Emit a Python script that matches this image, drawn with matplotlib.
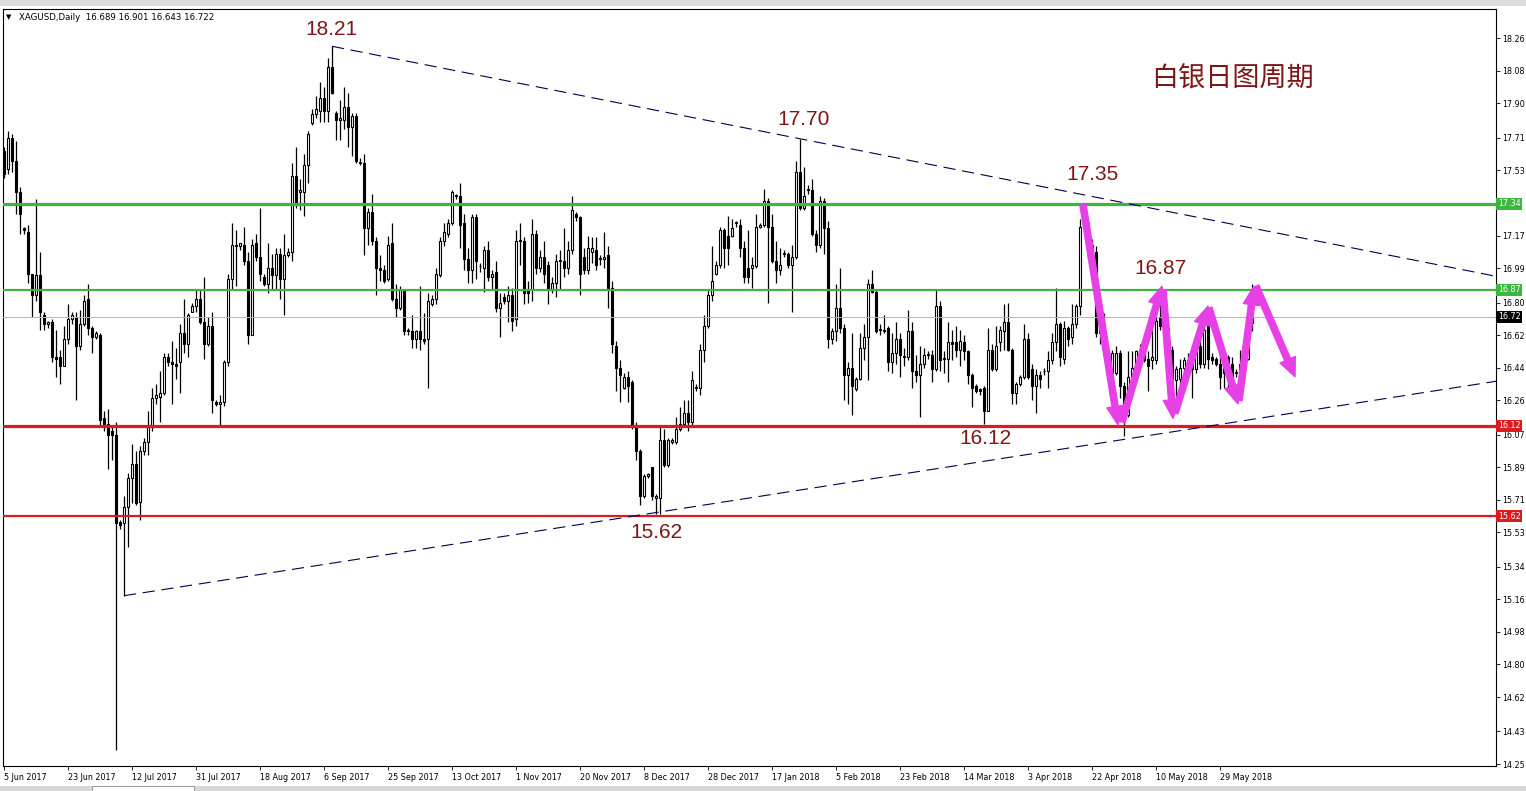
import matplotlib.pyplot as plt
import matplotlib.transforms as mtransforms
from matplotlib.patches import Rectangle
import numpy as np

## Daily candles, XAGUSD, 5 Jun 2017 .. 7 Jun 2018 (bar index = position)
opens = [
    17.64, 17.54, 17.71, 17.58, 17.41, 17.21, 17.19, 16.96, 16.84, 16.95,
    16.73, 16.68, 16.69, 16.50, 16.50, 16.45, 16.60, 16.71, 16.72, 16.56,
    16.68, 16.82, 16.66, 16.61, 16.62, 16.16, 16.13, 16.09, 16.07, 15.59,
    15.58, 15.67, 15.83, 15.91, 15.70, 15.98, 16.03, 16.11, 16.27, 16.28,
    16.30, 16.50, 16.47, 16.46, 16.47, 16.63, 16.57, 16.75, 16.78, 16.82,
    16.69, 16.57, 16.67, 16.25, 16.24, 16.25, 16.47, 16.93, 17.11, 17.11,
    17.12, 17.03, 16.62, 17.13, 17.05, 16.94, 16.90, 16.99, 16.95, 17.07,
    16.93, 17.06, 17.08, 17.50, 17.41, 17.41, 17.56, 17.79, 17.84, 17.86,
    17.93, 17.86, 18.10, 17.85, 17.81, 17.81, 17.88, 17.77, 17.83, 17.57,
    17.57, 17.21, 17.30, 17.14, 16.99, 16.98, 16.93, 17.13, 16.82, 16.77,
    16.87, 16.65, 16.64, 16.60, 16.64, 16.60, 16.60, 16.79, 16.82, 16.95,
    17.14, 17.18, 17.24, 17.39, 17.39, 17.24, 17.04, 16.98, 17.27, 17.00,
    16.99, 17.09, 16.94, 16.97, 16.77, 16.83, 16.81, 16.84, 16.71, 17.14,
    17.14, 16.87, 16.87, 17.18, 16.99, 17.05, 17.01, 16.87, 16.91, 17.03,
    17.03, 16.99, 17.09, 17.29, 17.27, 17.05, 16.98, 17.08, 17.09, 17.04,
    17.04, 17.06, 16.88, 16.56, 16.44, 16.33, 16.39, 16.36, 16.12, 15.98,
    15.73, 15.84, 15.89, 15.72, 15.72, 16.04, 15.90, 16.03, 16.03, 16.10,
    16.13, 16.19, 16.14, 16.33, 16.33, 16.54, 16.67, 16.84, 16.96, 17.01,
    17.20, 17.17, 17.17, 17.24, 17.23, 17.10, 16.99, 16.99, 17.00, 17.22,
    17.23, 17.36, 17.22, 17.03, 16.98, 17.07, 17.07, 17.01, 17.05, 17.52,
    17.32, 17.42, 17.42, 17.18, 17.12, 17.36, 17.21, 16.60, 16.64, 16.77,
    16.66, 16.40, 16.44, 16.32, 16.38, 16.55, 16.61, 16.90, 16.86, 16.65,
    16.64, 16.66, 16.47, 16.52, 16.60, 16.50, 16.50, 16.64, 16.42, 16.40,
    16.46, 16.51, 16.51, 16.43, 16.78, 16.49, 16.49, 16.58, 16.58, 16.54,
    16.58, 16.53, 16.40, 16.34, 16.32, 16.33, 16.20, 16.54, 16.43, 16.58,
    16.64, 16.69, 16.54, 16.30, 16.35, 16.39, 16.60, 16.43, 16.34, 16.40,
    16.42, 16.42, 16.48, 16.58, 16.68, 16.49, 16.66, 16.61, 16.68, 16.78,
    17.22, 17.24, 17.12, 17.08, 16.72, 16.63, 16.51, 16.41, 16.41, 16.52,
    16.34, 16.18, 16.39, 16.44, 16.53, 16.53, 16.49, 16.48, 16.48, 16.72,
    16.68, 16.66, 16.54, 16.37, 16.38, 16.44, 16.43, 16.48, 16.43, 16.56,
    16.46, 16.68, 16.50, 16.49, 16.46, 16.44, 16.50, 16.46, 16.41, 16.41,
    16.42, 16.49, 16.689]
highs = [
    17.66, 17.75, 17.73, 17.69, 17.44, 17.22, 17.23, 16.96, 17.37, 17.08,
    16.75, 16.70, 16.71, 16.65, 16.54, 16.67, 16.79, 16.75, 16.75, 16.76,
    16.84, 16.90, 16.67, 16.64, 16.63, 16.20, 16.21, 16.11, 16.14, 15.60,
    15.73, 15.86, 16.02, 15.98, 16.01, 16.05, 16.20, 16.33, 16.35, 16.42,
    16.52, 16.52, 16.59, 16.55, 16.68, 16.82, 16.74, 16.80, 16.87, 16.87,
    16.94, 16.72, 16.75, 16.26, 16.29, 16.48, 16.96, 17.24, 17.20, 17.13,
    17.22, 17.08, 17.15, 17.18, 17.32, 16.96, 17.13, 17.07, 17.10, 17.10,
    17.18, 17.10, 17.57, 17.66, 17.48, 17.62, 17.75, 17.87, 17.94, 18.02,
    17.99, 18.15, 18.216, 17.86, 17.92, 17.99, 17.96, 17.85, 17.85, 17.60,
    17.62, 17.32, 17.40, 17.16, 17.06, 17.01, 17.17, 17.24, 16.90, 16.89,
    16.87, 16.66, 16.73, 16.65, 16.89, 16.74, 16.85, 16.84, 16.99, 17.16,
    17.24, 17.26, 17.42, 17.40, 17.46, 17.29, 17.10, 17.29, 17.29, 17.02,
    17.11, 17.14, 16.98, 17.03, 16.85, 16.85, 16.89, 16.88, 17.20, 17.24,
    17.16, 16.92, 17.26, 17.20, 17.09, 17.14, 17.03, 16.94, 17.07, 17.09,
    17.21, 17.14, 17.39, 17.30, 17.28, 17.10, 17.17, 17.16, 17.16, 17.06,
    17.19, 17.11, 16.92, 16.59, 16.48, 16.41, 16.42, 16.37, 16.14, 15.99,
    15.85, 15.86, 15.89, 15.74, 16.12, 16.10, 16.05, 16.05, 16.17, 16.22,
    16.26, 16.26, 16.42, 16.35, 16.57, 16.73, 16.87, 17.11, 17.03, 17.22,
    17.21, 17.28, 17.26, 17.25, 17.26, 17.14, 17.20, 17.05, 17.29, 17.24,
    17.43, 17.38, 17.29, 17.14, 17.10, 17.09, 17.08, 17.12, 17.58, 17.705,
    17.55, 17.45, 17.48, 17.20, 17.39, 17.38, 17.25, 16.66, 16.90, 16.99,
    16.68, 16.47, 16.63, 16.39, 16.63, 16.68, 16.93, 16.98, 16.87, 16.68,
    16.73, 16.67, 16.63, 16.69, 16.63, 16.55, 16.76, 16.69, 16.51, 16.56,
    16.55, 16.53, 16.54, 16.87, 16.81, 16.53, 16.69, 16.65, 16.67, 16.65,
    16.62, 16.54, 16.41, 16.35, 16.33, 16.34, 16.66, 16.57, 16.67, 16.67,
    16.79, 16.80, 16.55, 16.36, 16.40, 16.68, 16.63, 16.46, 16.43, 16.42,
    16.44, 16.53, 16.63, 16.88, 16.69, 16.70, 16.67, 16.79, 16.79, 17.26,
    17.34, 17.25, 17.15, 17.11, 16.73, 16.74, 16.52, 16.54, 16.56, 16.54,
    16.36, 16.53, 16.53, 16.54, 16.57, 16.54, 16.53, 16.72, 16.76, 16.81,
    16.74, 16.68, 16.56, 16.45, 16.49, 16.50, 16.52, 16.50, 16.62, 16.62,
    16.73, 16.70, 16.52, 16.50, 16.53, 16.52, 16.51, 16.50, 16.43, 16.54,
    16.53, 16.79, 16.901]
lows = [
    17.49, 17.51, 17.52, 17.29, 17.18, 17.18, 16.91, 16.72, 16.81, 16.65,
    16.65, 16.66, 16.47, 16.39, 16.35, 16.45, 16.57, 16.68, 16.26, 16.54,
    16.67, 16.62, 16.52, 16.60, 16.12, 16.09, 15.88, 15.93, 14.33, 15.55,
    15.18, 15.45, 15.69, 15.68, 15.60, 15.96, 15.96, 16.09, 16.24, 16.14,
    16.29, 16.45, 16.24, 16.38, 16.30, 16.52, 16.50, 16.75, 16.75, 16.68,
    16.49, 16.56, 16.19, 16.23, 16.12, 16.23, 16.45, 16.87, 16.89, 17.09,
    17.01, 16.57, 16.62, 17.03, 16.92, 16.89, 16.85, 16.87, 16.87, 16.82,
    16.73, 17.05, 17.03, 17.32, 17.31, 17.28, 17.46, 17.78, 17.82, 17.80,
    17.80, 17.80, 17.95, 17.70, 17.70, 17.76, 17.66, 17.61, 17.57, 17.56,
    17.06, 17.12, 17.12, 16.84, 16.92, 16.91, 16.92, 16.81, 16.72, 16.76,
    16.62, 16.62, 16.55, 16.55, 16.54, 16.57, 16.33, 16.78, 16.79, 16.94,
    17.11, 17.16, 17.23, 17.37, 17.10, 16.98, 16.91, 16.91, 16.93, 16.97,
    16.86, 16.92, 16.87, 16.75, 16.61, 16.79, 16.69, 16.64, 16.67, 17.01,
    16.79, 16.80, 16.81, 16.96, 16.97, 16.91, 16.79, 16.85, 16.83, 16.87,
    16.94, 16.96, 17.07, 17.25, 16.84, 16.96, 16.96, 17.02, 16.98, 17.01,
    16.99, 16.77, 16.52, 16.31, 16.25, 16.32, 16.25, 16.10, 15.93, 15.68,
    15.72, 15.83, 15.71, 15.63, 15.63, 15.89, 15.89, 16.02, 16.02, 16.09,
    16.11, 16.09, 16.12, 16.31, 16.29, 16.47, 16.66, 16.81, 16.95, 16.99,
    16.99, 17.01, 17.16, 17.22, 17.05, 16.91, 16.91, 16.88, 16.99, 17.21,
    17.22, 16.80, 17.02, 16.91, 16.95, 17.05, 16.99, 16.75, 17.04, 17.31,
    17.31, 17.40, 17.17, 17.08, 17.10, 17.07, 16.55, 16.57, 16.59, 16.63,
    16.26, 16.24, 16.18, 16.31, 16.37, 16.48, 16.37, 16.85, 16.63, 16.62,
    16.63, 16.42, 16.41, 16.46, 16.39, 16.45, 16.48, 16.33, 16.36, 16.17,
    16.44, 16.49, 16.36, 16.42, 16.42, 16.41, 16.36, 16.48, 16.50, 16.45,
    16.48, 16.35, 16.22, 16.30, 16.29, 16.13, 16.20, 16.42, 16.42, 16.53,
    16.54, 16.53, 16.24, 16.24, 16.34, 16.38, 16.38, 16.26, 16.19, 16.33,
    16.40, 16.33, 16.46, 16.53, 16.45, 16.46, 16.56, 16.57, 16.66, 16.73,
    17.20, 17.04, 17.06, 16.61, 16.57, 16.50, 16.42, 16.38, 16.40, 16.27,
    16.06, 16.17, 16.38, 16.41, 16.50, 16.47, 16.31, 16.43, 16.46, 16.65,
    16.65, 16.50, 16.35, 16.24, 16.28, 16.35, 16.39, 16.27, 16.41, 16.44,
    16.44, 16.43, 16.46, 16.45, 16.32, 16.33, 16.32, 16.30, 16.39, 16.35,
    16.37, 16.48, 16.643]
closes = [
    17.51, 17.71, 17.58, 17.41, 17.29, 17.20, 16.96, 16.84, 16.95, 16.75,
    16.68, 16.69, 16.50, 16.49, 16.45, 16.60, 16.71, 16.73, 16.56, 16.68,
    16.81, 16.66, 16.61, 16.63, 16.15, 16.13, 16.07, 16.07, 15.58, 15.57,
    15.67, 15.83, 15.91, 15.69, 15.98, 16.03, 16.11, 16.27, 16.29, 16.30,
    16.50, 16.47, 16.46, 16.45, 16.63, 16.57, 16.73, 16.78, 16.82, 16.69,
    16.57, 16.67, 16.26, 16.24, 16.25, 16.47, 16.93, 17.12, 17.12, 17.13,
    17.03, 16.62, 17.12, 17.05, 16.96, 16.90, 16.99, 16.95, 17.07, 16.93,
    17.06, 17.08, 17.50, 17.35, 17.42, 17.56, 17.73, 17.84, 17.87, 17.93,
    17.86, 18.10, 17.96, 17.81, 17.82, 17.88, 17.77, 17.83, 17.58, 17.57,
    17.21, 17.30, 17.14, 16.99, 16.98, 16.92, 17.12, 16.82, 16.77, 16.87,
    16.64, 16.64, 16.60, 16.64, 16.60, 16.59, 16.81, 16.82, 16.96, 17.14,
    17.19, 17.24, 17.41, 17.39, 17.23, 17.04, 16.98, 17.27, 17.03, 17.00,
    17.09, 16.94, 16.96, 16.77, 16.80, 16.81, 16.84, 16.70, 17.14, 17.14,
    16.85, 16.85, 17.18, 16.99, 17.05, 16.96, 16.87, 16.91, 17.03, 17.03,
    16.99, 17.09, 17.31, 17.27, 16.96, 16.98, 17.10, 17.10, 17.01, 17.04,
    17.05, 16.88, 16.57, 16.44, 16.40, 16.39, 16.34, 16.12, 15.98, 15.73,
    15.84, 15.85, 15.73, 15.73, 16.04, 15.90, 16.04, 16.04, 16.10, 16.13,
    16.19, 16.14, 16.37, 16.33, 16.54, 16.67, 16.84, 16.92, 17.01, 17.20,
    17.10, 17.10, 17.21, 17.24, 17.10, 16.94, 16.94, 17.01, 17.22, 17.23,
    17.36, 17.22, 17.03, 16.98, 17.01, 17.07, 17.01, 17.05, 17.52, 17.32,
    17.39, 17.43, 17.18, 17.12, 17.36, 17.21, 16.60, 16.64, 16.77, 16.66,
    16.40, 16.44, 16.34, 16.38, 16.55, 16.61, 16.90, 16.86, 16.64, 16.65,
    16.65, 16.47, 16.52, 16.60, 16.51, 16.50, 16.64, 16.42, 16.40, 16.46,
    16.51, 16.51, 16.43, 16.78, 16.48, 16.49, 16.58, 16.57, 16.54, 16.59,
    16.53, 16.40, 16.33, 16.31, 16.31, 16.20, 16.54, 16.43, 16.56, 16.65,
    16.69, 16.54, 16.30, 16.35, 16.39, 16.60, 16.39, 16.34, 16.40, 16.38,
    16.42, 16.48, 16.58, 16.68, 16.50, 16.66, 16.60, 16.68, 16.78, 17.22,
    17.24, 17.12, 17.08, 16.63, 16.63, 16.51, 16.47, 16.52, 16.52, 16.34,
    16.18, 16.39, 16.44, 16.53, 16.54, 16.48, 16.45, 16.50, 16.70, 16.67,
    16.66, 16.54, 16.38, 16.43, 16.44, 16.48, 16.48, 16.43, 16.61, 16.46,
    16.65, 16.49, 16.48, 16.46, 16.39, 16.41, 16.39, 16.39, 16.41, 16.46,
    16.49, 16.69, 16.722]

## Date labels (one every 16 bars)
date_pos = [0, 16, 32, 48, 64, 80, 96, 112, 128, 144, 160, 176, 192, 208, 224, 240, 256, 272, 288, 304]
date_labels = ["5 Jun 2017", "23 Jun 2017", "12 Jul 2017", "31 Jul 2017", "18 Aug 2017",
               "6 Sep 2017", "25 Sep 2017", "13 Oct 2017", "1 Nov 2017", "20 Nov 2017",
               "8 Dec 2017", "28 Dec 2017", "17 Jan 2018", "5 Feb 2018", "23 Feb 2018",
               "14 Mar 2018", "3 Apr 2018", "22 Apr 2018", "10 May 2018", "29 May 2018"]

## Price scale
price_ticks = [18.26, 18.08, 17.90, 17.71, 17.53, 17.17, 16.99, 16.80, 16.62, 16.44, 16.26,
               16.07, 15.89, 15.71, 15.53, 15.34, 15.16, 14.98, 14.80, 14.62, 14.43, 14.25]

## Horizontal levels: price, tag, colour, width
level_price = [17.345, 16.87, 16.722, 16.12, 15.62]
level_tag = ["17.34", "16.87", "16.72", "16.12", "15.62"]
level_color = ["#3cb63c", "#3cb63c", "#b4b4b4", "#dc1c1c", "#dc1c1c"]
level_tagbg = ["#3cb63c", "#3cb63c", "#000000", "#dc1c1c", "#dc1c1c"]
level_width = [2.3, 1.6, 0.7, 2.3, 1.6]

## Triangle trend lines
upper_x = [82, 373]
upper_y = [18.216, 16.945]
lower_x = [30, 373]
lower_y = [15.18, 16.365]

## Swing labels
swing_x = [81.75, 200, 272, 289, 245.25, 163]
swing_y = [18.306, 17.809, 17.505, 16.987, 16.046, 15.532]
swing_text = ["18.21", "17.70", "17.35", "16.87", "16.12", "15.62"]

## Magenta zig-zag arrows
arrow_x0 = [269.75, 279.5, 289.75, 292.75, 301.25, 308.75, 313.0]
arrow_y0 = [17.34, 16.14, 16.87, 16.19, 16.77, 16.26, 16.89]
arrow_x1 = [278.5, 289.5, 292.25, 301.0, 308.5, 312.5, 322.75]
arrow_y1 = [16.124, 16.89, 16.16, 16.78, 16.24, 16.89, 16.39]

o = np.array(opens)
h = np.array(highs)
l = np.array(lows)
c = np.array(closes)
x = np.arange(len(c))

fig = plt.figure(figsize=(15.26, 7.91), dpi=100)
ax = fig.add_axes([3/1526, 25/791, 1493/1526, 757/791])
ax.set_xlim(-0.25, 373)
ax.set_ylim(14.239, 18.422)

## candles
ax.vlines(x, l, h, colors="black", linewidth=0.9, zorder=2)
bull = c >= o
body_low = np.minimum(o, c)
body_h = np.maximum(np.abs(c - o), 0.004)
ax.bar(x[bull], body_h[bull], bottom=body_low[bull], width=0.6,
       color="white", edgecolor="black", linewidth=0.8, zorder=3)
ax.bar(x[~bull], body_h[~bull], bottom=body_low[~bull], width=0.6,
       color="black", edgecolor="black", linewidth=0.8, zorder=3)

## levels + their tags on the price scale
trans = mtransforms.blended_transform_factory(ax.transAxes, ax.transData)
for p, tag, col, bg, lw in zip(level_price, level_tag, level_color, level_tagbg, level_width):
    ax.axhline(p, color=col, linewidth=lw, zorder=4)
    ax.text(1.0012, p, tag, transform=trans, color="white", fontsize=5.8,
            ha="left", va="center", zorder=6, clip_on=False,
            bbox=dict(boxstyle="square,pad=0.18", fc=bg, ec="none"))

## trend lines
ax.plot(upper_x, upper_y, color="#000050", linewidth=0.8, linestyle=(0, (11, 6)), zorder=4)
ax.plot(lower_x, lower_y, color="#000050", linewidth=0.8, linestyle=(0, (11, 6)), zorder=4)

## swing labels
for sx, sy, st in zip(swing_x, swing_y, swing_text):
    ax.text(sx, sy, st, ha="center", va="center", color="#7d1616",
            fontsize=15, family="Liberation Sans", zorder=6)
ax.text(307, 18.035, "白银日图周期", ha="center", va="center", color="#7d1616",
        fontsize=19.5, family=["Noto Sans CJK SC", "DejaVu Sans"], zorder=6)

## arrows
for x0, y0, x1, y1 in zip(arrow_x0, arrow_y0, arrow_x1, arrow_y1):
    ax.annotate("", xy=(x1, y1), xytext=(x0, y0), zorder=7,
                arrowprops=dict(arrowstyle="simple,head_length=0.95,head_width=0.85,tail_width=0.32",
                                color="#e640e6", mutation_scale=14, shrinkA=0, shrinkB=0))

## axes cosmetics
ax.yaxis.tick_right()
ax.set_yticks(price_ticks)
ax.set_yticklabels(["%.2f" % v for v in price_ticks], fontsize=5.8)
ax.tick_params(axis="y", length=3, width=0.6, pad=1.5, direction="out")
ax.set_xticks(date_pos)
ax.set_xticklabels(date_labels, fontsize=5.8, ha="left")
ax.tick_params(axis="x", length=3, width=0.6, pad=2, direction="out", colors="black")
for sp in ax.spines.values():
    sp.set_linewidth(0.8)
    sp.set_color("black")

## header
fig.text(6/1526, 1 - 17/791, "\u25bc", fontsize=5, va="center", ha="left")
fig.text(19/1526, 1 - 17/791, "XAGUSD,Daily  16.689 16.901 16.643 16.722",
         fontsize=6.2, va="center", ha="left")

## window chrome
fig.add_artist(Rectangle((0, 1 - 6/791), 1, 6/791, transform=fig.transFigure,
                         facecolor="#dcdcdc", edgecolor="none"))
fig.add_artist(Rectangle((0, 0), 1, 5/791, transform=fig.transFigure,
                         facecolor="#d8d8d8", edgecolor="none"))
fig.add_artist(Rectangle((92/1526, 0), 102/1526, 5/791, transform=fig.transFigure,
                         facecolor="white", edgecolor="#888888", linewidth=0.6))

plt.savefig("out.png", dpi=100)
